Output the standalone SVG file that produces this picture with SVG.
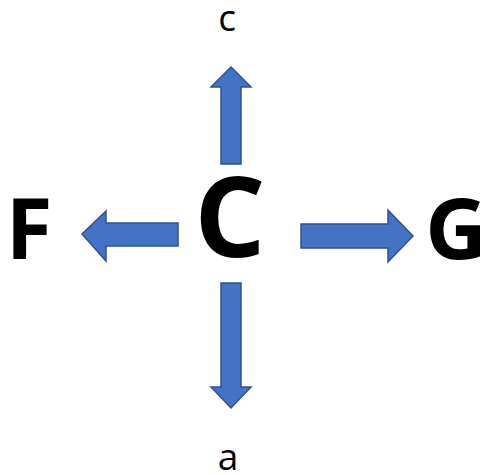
<svg xmlns="http://www.w3.org/2000/svg" width="483" height="475" viewBox="0 0 483 475">
  <style>
    .arrow { fill: #4472C4; stroke: #2F528F; stroke-width: 1.5; stroke-linejoin: miter; }
    .big { font-family: "Open Sans", "Liberation Sans", sans-serif; font-weight: 700; fill: #000; text-anchor: middle; }
    .small { font-family: "Open Sans", "Liberation Sans", sans-serif; font-weight: 400; fill: #000; text-anchor: middle; font-size: 37px; }
  </style>
  <rect width="483" height="475" fill="#FFFFFF"/>
  <g id="connectors">
    <polygon id="arrow-up" class="arrow" points="221,164 221,87 211,87 231,67 251,87 241,87 241,164"/>
    <polygon id="arrow-left" class="arrow" points="178,223 106,223 106,211 82,234 106,261 106,246 178,246"/>
    <polygon id="arrow-right" class="arrow" points="301,224 388,224 388,210 413,236 388,262 388,248 301,248"/>
    <polygon id="arrow-down" class="arrow" points="221,283 241,283 241,387 251,387 231,408 211,387 221,387"/>
  </g>
  <g id="node-C"><text class="big" x="230" y="257" font-size="112">C</text></g>
  <g id="node-F"><text class="big" x="29" y="259" font-size="85">F</text></g>
  <g id="node-G"><text class="big" x="456" y="259" font-size="85">G</text></g>
  <g id="node-c"><text class="small" x="227" y="31">c</text></g>
  <g id="node-a"><text class="small" x="228" y="470">a</text></g>
</svg>
